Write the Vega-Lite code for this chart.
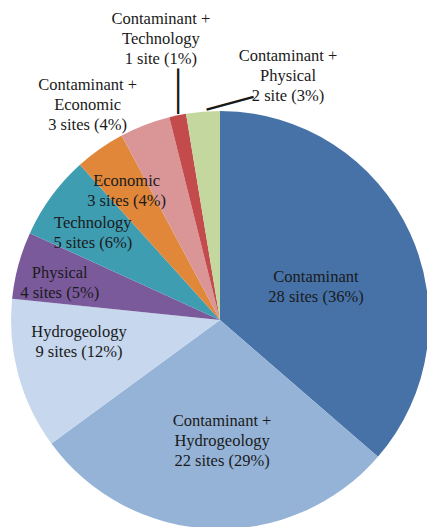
{
  "$schema": "https://vega.github.io/schema/vega-lite/v6.json",
  "width": 440,
  "height": 420,
  "autosize": {"type": "none"},
  "padding": {"left": 0, "top": 110, "right": 0, "bottom": 0},
  "background": "white",
  "view": {"stroke": null},
  "data": {
    "values": [
      {"name": "Contaminant", "sites": 28, "ord": 1, "label": "Contaminant\n28 sites (36%)"},
      {"name": "Contaminant + Hydrogeology", "sites": 22, "ord": 2, "label": "Contaminant +\nHydrogeology\n22 sites (29%)"},
      {"name": "Hydrogeology", "sites": 9, "ord": 3, "label": "Hydrogeology\n9 sites (12%)"},
      {"name": "Physical", "sites": 4, "ord": 4, "label": "Physical\n4 sites (5%)"},
      {"name": "Technology", "sites": 5, "ord": 5, "label": "Technology\n5 sites (6%)"},
      {"name": "Economic", "sites": 3, "ord": 6, "label": "Economic\n3 sites (4%)"},
      {"name": "Contaminant + Economic", "sites": 3, "ord": 7, "label": "Contaminant +\nEconomic\n3 sites (4%)"},
      {"name": "Contaminant + Technology", "sites": 1, "ord": 8, "label": "Contaminant +\nTechnology\n1 site (1%)"},
      {"name": "Contaminant + Physical", "sites": 2, "ord": 9, "label": "Contaminant +\nPhysical\n2 site (3%)"}
    ]
  },
  "encoding": {
    "theta": {"field": "sites", "type": "quantitative", "stack": true},
    "order": {"field": "ord", "type": "quantitative"}
  },
  "layer": [
    {
      "mark": {"type": "arc", "outerRadius": 209},
      "encoding": {
        "color": {
          "field": "name", "type": "nominal", "legend": null,
          "scale": {
            "domain": ["Contaminant", "Contaminant + Hydrogeology", "Hydrogeology", "Physical", "Technology", "Economic", "Contaminant + Economic", "Contaminant + Technology", "Contaminant + Physical"],
            "range": ["#4672A8", "#95B3D7", "#C6D7EE", "#7B5A9C", "#3F9DB2", "#E0873A", "#DA9597", "#C44B4C", "#C4D79E"]
          }
        }
      }
    },
    {
      "mark": {"type": "text", "radius": 100, "dx": 5, "dy": -1, "font": "Liberation Serif", "fontSize": 16.5, "lineHeight": 20, "lineBreak": "\n", "color": "#1a1a1a", "align": "center", "baseline": "middle"},
      "encoding": {"detail": {"field": "name"}, "text": {"condition": {"test": "datum.name === 'Contaminant'", "field": "label", "type": "nominal"}, "value": ""}}
    },
    {
      "mark": {"type": "text", "radius": 121, "dx": 7, "dy": -20, "font": "Liberation Serif", "fontSize": 16.5, "lineHeight": 20, "lineBreak": "\n", "color": "#1a1a1a", "align": "center", "baseline": "middle"},
      "encoding": {"detail": {"field": "name"}, "text": {"condition": {"test": "datum.name === 'Contaminant + Hydrogeology'", "field": "label", "type": "nominal"}, "value": ""}}
    },
    {
      "mark": {"type": "text", "radius": 143, "dx": -3, "dy": -25, "font": "Liberation Serif", "fontSize": 16.5, "lineHeight": 20, "lineBreak": "\n", "color": "#1a1a1a", "align": "center", "baseline": "middle"},
      "encoding": {"detail": {"field": "name"}, "text": {"condition": {"test": "datum.name === 'Hydrogeology'", "field": "label", "type": "nominal"}, "value": ""}}
    },
    {
      "mark": {"type": "text", "radius": 164, "dx": -2, "dy": -4, "font": "Liberation Serif", "fontSize": 16.5, "lineHeight": 20, "lineBreak": "\n", "color": "#1a1a1a", "align": "center", "baseline": "middle"},
      "encoding": {"detail": {"field": "name"}, "text": {"condition": {"test": "datum.name === 'Physical'", "field": "label", "type": "nominal"}, "value": ""}}
    },
    {
      "mark": {"type": "text", "radius": 154, "dx": -3, "dy": -6, "font": "Liberation Serif", "fontSize": 16.5, "lineHeight": 20, "lineBreak": "\n", "color": "#1a1a1a", "align": "center", "baseline": "middle"},
      "encoding": {"detail": {"field": "name"}, "text": {"condition": {"test": "datum.name === 'Technology'", "field": "label", "type": "nominal"}, "value": ""}}
    },
    {
      "mark": {"type": "text", "radius": 159, "dx": -2, "dy": -9, "font": "Liberation Serif", "fontSize": 16.5, "lineHeight": 20, "lineBreak": "\n", "color": "#1a1a1a", "align": "center", "baseline": "middle"},
      "encoding": {"detail": {"field": "name"}, "text": {"condition": {"test": "datum.name === 'Economic'", "field": "label", "type": "nominal"}, "value": ""}}
    },
    {
      "mark": {"type": "text", "radius": 235, "dx": -48, "dy": -16, "font": "Liberation Serif", "fontSize": 16.5, "lineHeight": 20, "lineBreak": "\n", "color": "#1a1a1a", "align": "center", "baseline": "middle"},
      "encoding": {"detail": {"field": "name"}, "text": {"condition": {"test": "datum.name === 'Contaminant + Economic'", "field": "label", "type": "nominal"}, "value": ""}}
    },
    {
      "mark": {"type": "text", "radius": 287, "dx": -1, "dy": -20, "font": "Liberation Serif", "fontSize": 16.5, "lineHeight": 20, "lineBreak": "\n", "color": "#1a1a1a", "align": "center", "baseline": "middle"},
      "encoding": {"detail": {"field": "name"}, "text": {"condition": {"test": "datum.name === 'Contaminant + Technology'", "field": "label", "type": "nominal"}, "value": ""}}
    },
    {
      "mark": {"type": "text", "radius": 245, "dx": 88, "dy": -20, "font": "Liberation Serif", "fontSize": 16.5, "lineHeight": 20, "lineBreak": "\n", "color": "#1a1a1a", "align": "center", "baseline": "middle"},
      "encoding": {"detail": {"field": "name"}, "text": {"condition": {"test": "datum.name === 'Contaminant + Physical'", "field": "label", "type": "nominal"}, "value": ""}}
    },
    {
      "mark": {"type": "text", "radius": 234, "dx": 0.5, "dy": -9, "angle": 90, "font": "Liberation Serif", "fontSize": 45, "color": "#1a1a1a", "align": "center", "baseline": "middle"},
      "encoding": {"detail": {"field": "name"}, "text": {"condition": {"test": "datum.name === 'Contaminant + Technology'", "value": "—"}, "value": ""}}
    },
    {
      "mark": {"type": "text", "radius": 216, "dx": 27, "dy": 3, "angle": -15, "font": "Liberation Serif", "fontSize": 48, "color": "#1a1a1a", "align": "center", "baseline": "middle"},
      "encoding": {"detail": {"field": "name"}, "text": {"condition": {"test": "datum.name === 'Contaminant + Physical'", "value": "—"}, "value": ""}}
    }
  ]
}
